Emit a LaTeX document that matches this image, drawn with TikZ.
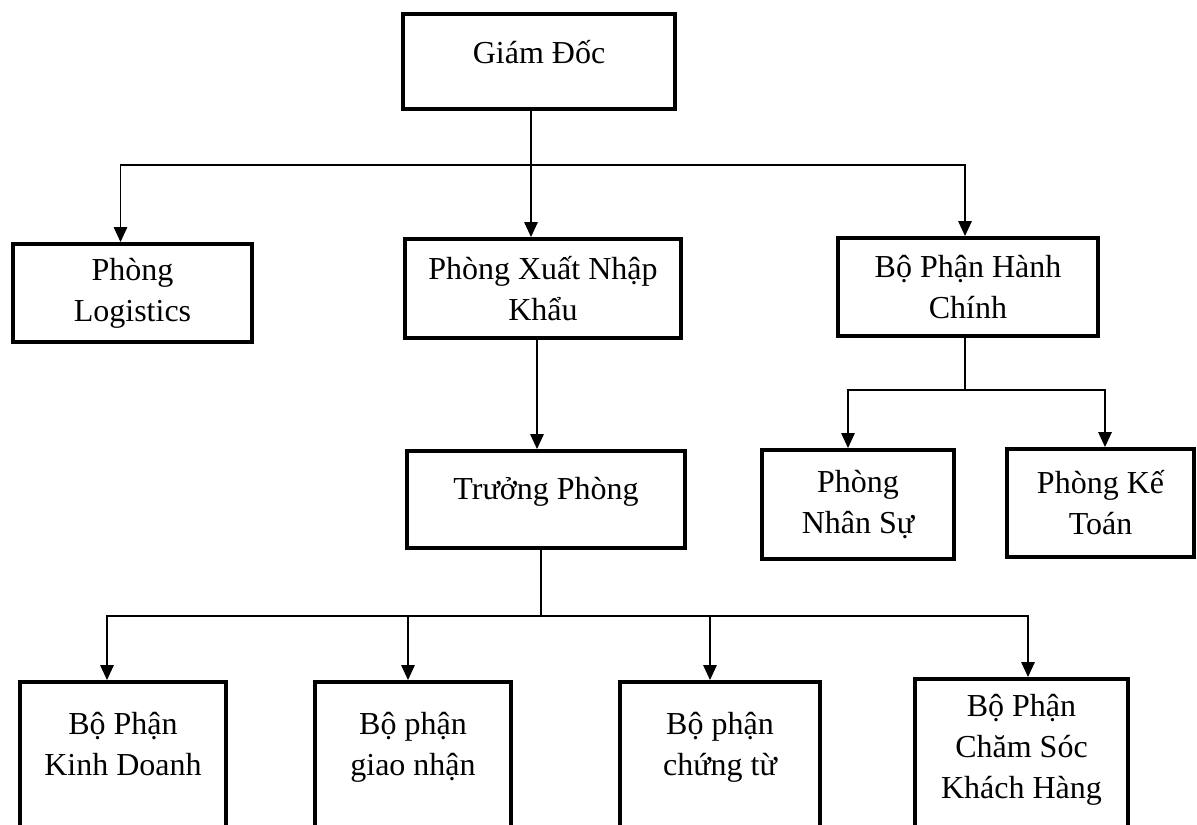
\documentclass[tikz,border=0pt]{standalone}
\usepackage{fontspec}
\setmainfont{Liberation Serif}
\usepackage{tikz}
\usetikzlibrary{arrows.meta,positioning}
\tikzset{box/.style={draw=black,line width=2pt,align=center,font=\fontsize{16}{20.5}\selectfont}}
\tikzset{txt/.style={align=center,inner sep=0pt,font=\fontsize{16}{20.5}\selectfont}}

\begin{document}
\begin{tikzpicture}[x=0.5pt,y=-0.5pt,>={Triangle[length=7.5pt,width=6.8pt]}]
\clip (0,0) rectangle (1197,824);
% \draw[help lines] (0,0) grid[step=100] (1197,824);
\node (gd) [box,minimum width=136pt,minimum height=47.5pt] at (539,61.5) {};
\node (gdt) [txt,yshift=4.75pt] at (gd) {Giám Đốc};
%
\node (log) [box,minimum width=119.5pt,minimum height=49pt] at (132.5,293) {Phòng\\Logistics};
\node (xnk) [box,minimum width=138pt,minimum height=49.5pt] at (543,288.5) {Phòng Xuất Nhập\\Khẩu};
\node (hc) [box,minimum width=130pt,minimum height=49pt] at (968,287) {Bộ Phận Hành\\Chính};
%
\node (tp) [box,minimum width=139pt,minimum height=48.5pt] at (546,499.5) {};
\node (tpt) [txt,yshift=3.75pt] at (tp) {Trưởng Phòng};
\node (ns) [box,minimum width=96pt,minimum height=54.5pt] at (858,504.5) {Phòng\\Nhân Sự};
\node (kt) [box,minimum width=93.5pt,minimum height=54pt] at (1100.5,503) {Phòng Kế\\Toán};
%
\node (kd) [box,minimum width=103pt,minimum height=98pt] at (123,780) {};
\node (gn) [box,minimum width=98pt,minimum height=98pt] at (413,780) {};
\node (ct) [box,minimum width=100pt,minimum height=98pt] at (720,780) {};
\node (cs) [box,minimum width=106.5pt,minimum height=98pt] at (1021.5,777) {};
\node (kdt) [txt] at ([yshift=-32pt]kd.north) {Bộ Phận\\Kinh Doanh};
\node (gnt) [txt] at ([yshift=-33.5pt]gn.north) {Bộ phận\\giao nhận};
\node (ctt) [txt] at ([yshift=-33.5pt]ct.north) {Bộ phận\\chứng từ};
\node (cst) [txt] at ([yshift=-36.5pt]cs.north) {Bộ Phận\\Chăm Sóc\\Khách Hàng};
%
\coordinate (bus1) at (0,165);
\coordinate (bus2) at (0,390);
\coordinate (bus3) at (0,616);
%
\draw[->,line width=0.6pt] ([xshift=-4pt]gd.south) -- ([xshift=-4pt]gd.south |- xnk.north);
\draw[<->,line width=0.6pt] ([xshift=-6pt]log.north) |- ([xshift=-1.5pt]hc.north |- bus1) -- ([xshift=-1.5pt]hc.north);
\draw[->,line width=0.6pt] ([xshift=-3pt]xnk.south) -- ([xshift=-3pt]xnk.south |- tp.north);
%
\draw[line width=0.6pt] ([xshift=-1.5pt]hc.south) -- ([xshift=-1.5pt]hc.south |- bus2);
\draw[<->,line width=0.6pt] ([xshift=-5pt]ns.north) |- ([xshift=2.25pt]kt.north |- bus2) -- ([xshift=2.25pt]kt.north);
%
\draw[line width=0.6pt] ([xshift=-2.5pt]tp.south) -- ([xshift=-2.5pt]tp.south |- bus3);
\draw[<->,line width=0.6pt] ([xshift=-8pt]kd.north) |- ([xshift=3.25pt]cs.north |- bus3) -- ([xshift=3.25pt]cs.north);
\draw[->,line width=0.6pt] ([xshift=-2.5pt]gn.north |- bus3) -- ([xshift=-2.5pt]gn.north);
\draw[->,line width=0.6pt] ([xshift=-5pt]ct.north |- bus3) -- ([xshift=-5pt]ct.north);
\end{tikzpicture}
\end{document}
